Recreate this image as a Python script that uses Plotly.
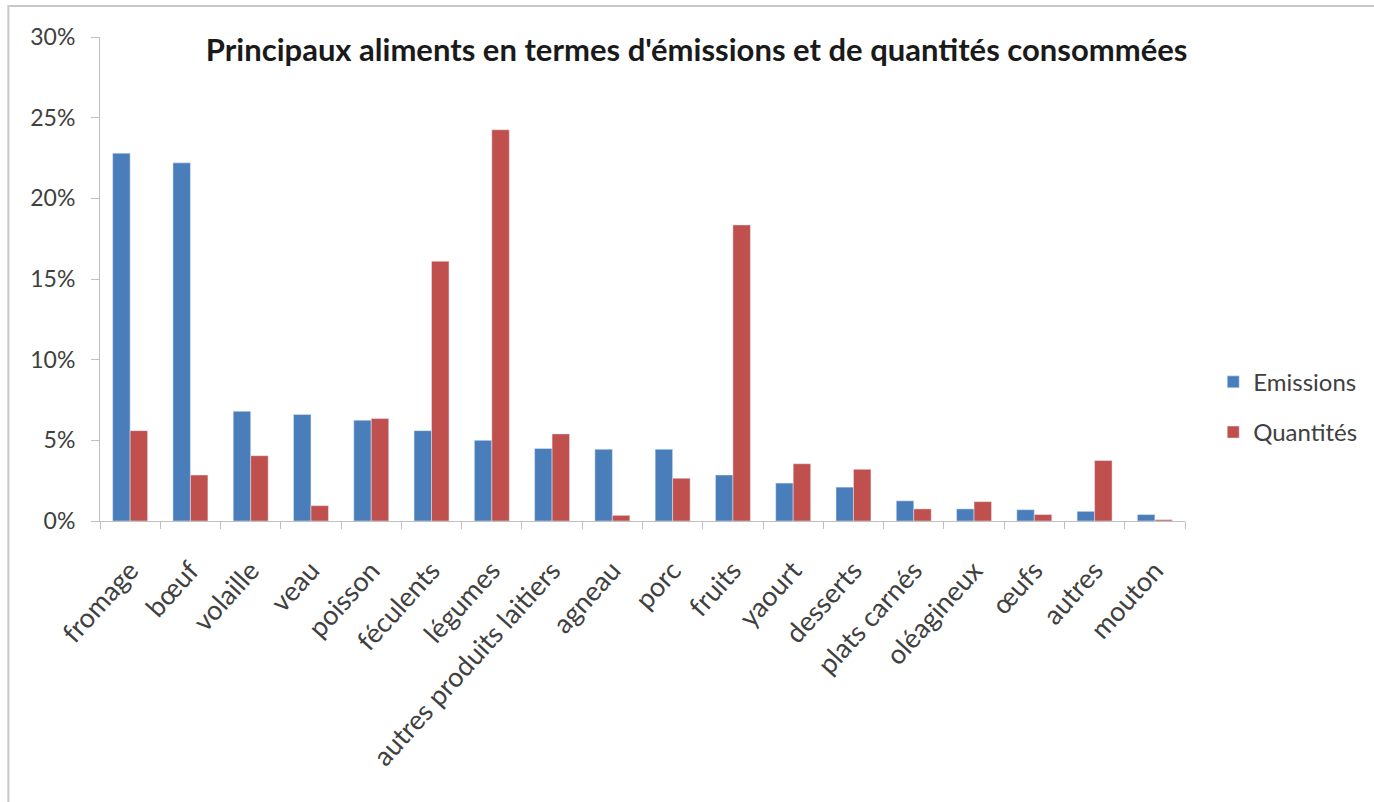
import plotly.graph_objects as go

categories = [
    "fromage", "bœuf", "volaille", "veau", "poisson", "féculents", "légumes",
    "autres produits laitiers", "agneau", "porc", "fruits", "yaourt", "desserts",
    "plats carnés", "oléagineux", "œufs", "autres", "mouton",
]
emissions = [22.8, 22.2, 6.8, 6.6, 6.25, 5.6, 5.0, 4.5, 4.45, 4.45, 2.85, 2.35, 2.1, 1.25, 0.75, 0.7, 0.6, 0.4]
quantites = [5.6, 2.85, 4.05, 0.95, 6.35, 16.1, 24.25, 5.4, 0.35, 2.65, 18.35, 3.55, 3.2, 0.75, 1.2, 0.4, 3.75, 0.08]
y_ticks = [0, 5, 10, 15, 20, 25, 30]
y_labels = ["0%", "5%", "10%", "15%", "20%", "25%", "30%"]

FONT = "Lato"
TEXT = "#404040"
AXIS = "#bfbfbf"

fig = go.Figure()
fig.add_trace(go.Bar(x=categories, y=emissions, name="Emissions", legendgroup="e", marker_color="#4a7ebb"))
fig.add_trace(go.Bar(x=categories, y=quantites, name="Quantités", legendgroup="q", marker_color="#c0504d"))

fig.update_layout(
    width=1374,
    height=802,
    plot_bgcolor="#ffffff",
    paper_bgcolor="#ffffff",
    barmode="group",
    bargap=0.42,
    bargroupgap=0,
    font=dict(family=FONT, size=22, color=TEXT),
    title=dict(
        text="<b>Principaux aliments en termes d'émissions et de quantités consommées</b>",
        x=0.507, xanchor="center", y=0.938, yanchor="middle",
        font=dict(family=FONT, size=31, color="#1a1a1a"),
    ),
    legend=dict(
        x=1.026, xanchor="left", y=0.235, yanchor="middle",
        font=dict(family=FONT, size=24, color=TEXT),
        itemwidth=30, tracegroupgap=16,
    ),
    margin=dict(l=100, r=185, t=37, b=281),
    shapes=[dict(type="rect", xref="paper", yref="paper",
                 x0=(8 - 100) / 1089, x1=1.3, y0=-0.7, y1=1 + 31 / 484,
                 line=dict(color="#c8c8c8", width=2), layer="below")],
)
fig.update_yaxes(
    range=[0, 30], tickvals=y_ticks, ticktext=y_labels,
    showgrid=False, zeroline=False,
    showline=True, linecolor=AXIS, linewidth=1,
    ticks="outside", ticklen=8, tickcolor=AXIS, ticklabelstandoff=11,
    tickfont=dict(size=23),
)
fig.update_xaxes(
    tickangle=-48, showgrid=False,
    showline=True, linecolor=AXIS, linewidth=1,
    ticks="outside", ticklen=7, tickcolor=AXIS, tickson="boundaries",
    ticklabelstandoff=22, tickfont=dict(size=27),
)

fig.write_html("out.html", config={"displayModeBar": False},
               post_script="document.body.style.margin='0px';")
